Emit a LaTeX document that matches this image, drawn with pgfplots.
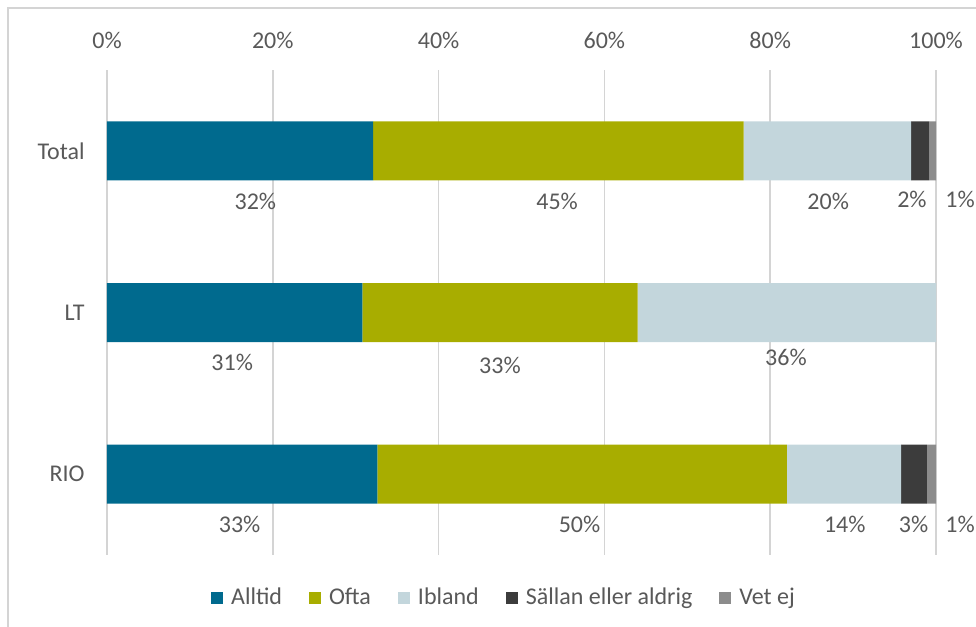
\documentclass[border=0pt]{standalone}
\usepackage{pgfplots}
\pgfplotsset{compat=1.18}
\usepackage{pgfplotstable}
\usepackage{fontspec}
\setmainfont{Carlito}
\definecolor{alltid}{HTML}{006A8E}
\definecolor{ofta}{HTML}{A8AD00}
\definecolor{ibland}{HTML}{C3D6DC}
\definecolor{sallan}{HTML}{3C3C3C}
\definecolor{vetej}{HTML}{8C8C8C}
\definecolor{txt}{HTML}{595959}
\definecolor{gridc}{HTML}{D4D4D4}

% y: 0 = RIO, 1 = LT, 2 = Total
\pgfplotstableread{
y alltid ofta ibland sallan vetej
0 32.6 49.4 13.8 3.1 1.1
1 30.8 33.2 36.0 0   0
2 32.1 44.7 20.2 2.2 0.8
}\data

\begin{document}
\begin{tikzpicture}[font=\fontsize{12}{14}\selectfont]
\begin{axis}[
  scale only axis,
  width=414.5pt, height=242.5pt,
  xbar stacked, bar width=29.5pt,
  xmin=0, xmax=100, ymin=-0.5, ymax=2.5,
  clip=false,
  axis line style={draw=none},
  major tick length=0pt,
  xmajorgrids, grid style={gridc, line width=0.75pt},
  xtick={0,20,40,60,80,100},
  xticklabel pos=upper,
  xticklabel={\pgfmathprintnumber{\tick}\%},
  /pgf/number format/assume math mode=true,
  xticklabel style={anchor=center, yshift=15pt, text=txt},
  ytick={0,1,2}, yticklabels={RIO,LT,Total},
  yticklabel style={anchor=east, inner sep=0pt, xshift=-11pt, text=txt},
  legend style={draw=none, at={(0.4795,0)}, anchor=center, yshift=-21.5pt,
    legend columns=-1, text=txt,
    /tikz/every odd column/.append style={column sep=2.5pt},
    /tikz/every even column/.append style={column sep=12pt},
    nodes={inner sep=1.5pt}},
  legend image code/.code={\fill[#1] (0pt,-3pt) rectangle (6pt,3pt);},
]
\addplot[fill=alltid, draw=none] table[x=alltid, y=y]{\data};
\addplot[fill=ofta, draw=none] table[x=ofta, y=y]{\data};
\addplot[fill=ibland, draw=none] table[x=ibland, y=y]{\data};
\addplot[fill=sallan, draw=none] table[x=sallan, y=y]{\data};
\addplot[fill=vetej, draw=none] table[x=vetej, y=y]{\data};
\legend{Alltid, Ofta, Ibland, Sällan eller aldrig, Vet ej}

% Total
\node[text=txt] at (axis cs:17.9,1.69) {32\%};
\node[text=txt] at (axis cs:54.3,1.69) {45\%};
\node[text=txt] at (axis cs:87.0,1.69) {20\%};
\node[text=txt] at (axis cs:97.1,1.70) {2\%};
\node[text=txt] at (axis cs:102.9,1.70) {1\%};
% LT
\node[text=txt] at (axis cs:15.1,0.69) {31\%};
\node[text=txt] at (axis cs:47.4,0.67) {33\%};
\node[text=txt] at (axis cs:81.9,0.72) {36\%};
% RIO
\node[text=txt] at (axis cs:16.0,-0.31) {33\%};
\node[text=txt] at (axis cs:57.0,-0.31) {50\%};
\node[text=txt] at (axis cs:89.0,-0.31) {14\%};
\node[text=txt] at (axis cs:97.3,-0.31) {3\%};
\node[text=txt] at (axis cs:102.9,-0.31) {1\%};
\end{axis}
\pgfresetboundingbox
\path[use as bounding box] ([xshift=-53.5pt,yshift=-36pt]current axis.south west)
  rectangle ([xshift=434.5pt,yshift=277.5pt]current axis.south west);
\draw[gridc, line width=0.75pt] ([xshift=-49.5pt,yshift=-45pt]current axis.south west)
  rectangle ([xshift=460pt,yshift=273.5pt]current axis.south west);
\end{tikzpicture}
\end{document}
